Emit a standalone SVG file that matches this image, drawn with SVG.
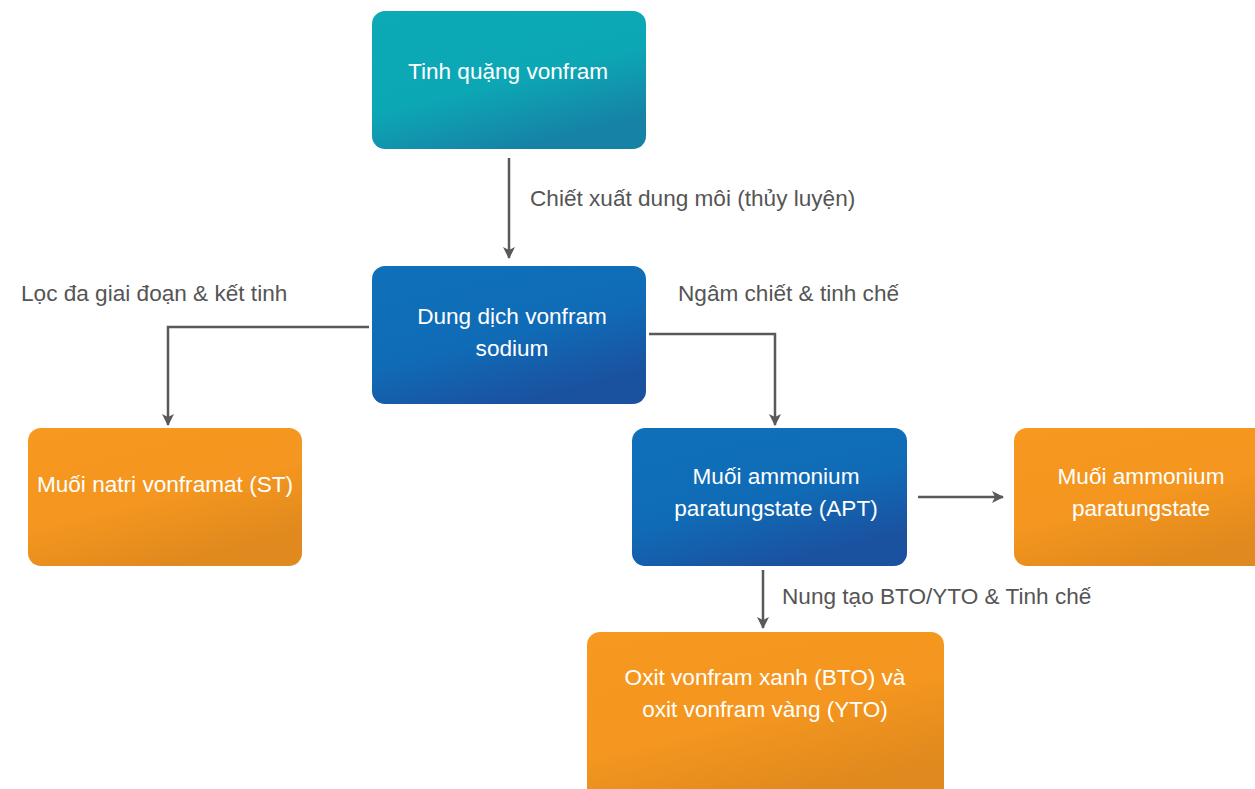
<svg xmlns="http://www.w3.org/2000/svg" width="1255" height="789" viewBox="0 0 1255 789">
<style>
.node-text{font-family:"Liberation Sans",Arial,sans-serif;font-size:22.6px;fill:#ffffff;text-anchor:middle}
.label{font-family:"Liberation Sans",Arial,sans-serif;font-size:22.6px;fill:#555555}
.conn{fill:none;stroke:#595959;stroke-width:2.5}
</style>
<defs>
<linearGradient id="gTeal" x1="0" y1="0" x2="0.5" y2="1">
<stop offset="0" stop-color="#0BAAB6"/><stop offset="0.6" stop-color="#0CA7B5"/><stop offset="1" stop-color="#1683A6"/>
</linearGradient>
<linearGradient id="gBlue" x1="0" y1="0" x2="0.5" y2="1">
<stop offset="0" stop-color="#0F71BA"/><stop offset="0.6" stop-color="#106BB6"/><stop offset="1" stop-color="#1A52A0"/>
</linearGradient>
<linearGradient id="gOrange" x1="0" y1="0" x2="0.5" y2="1">
<stop offset="0" stop-color="#F7991F"/><stop offset="0.6" stop-color="#F4961F"/><stop offset="1" stop-color="#E0891E"/>
</linearGradient>
<marker id="arrow" viewBox="0 0 12 12" refX="11" refY="6" markerWidth="12" markerHeight="12" markerUnits="userSpaceOnUse" orient="auto">
<path d="M0,0 L12,6 L0,12 L3,6 Z" fill="#595959"/>
</marker>
</defs>
<rect width="1255" height="789" fill="#ffffff"/>
<g id="connectors">
<path class="conn" d="M509,158 V258" marker-end="url(#arrow)"/>
<path class="conn" d="M369,327 H168 V425" marker-end="url(#arrow)"/>
<path class="conn" d="M649,334 H775 V425" marker-end="url(#arrow)"/>
<path class="conn" d="M918,497 H1003" marker-end="url(#arrow)"/>
<path class="conn" d="M763,570 V628" marker-end="url(#arrow)"/>
<text class="label" x="530" y="206">Chiết xuất dung môi (thủy luyện)</text>
<text class="label" x="21" y="301">Lọc đa giai đoạn &amp; kết tinh</text>
<text class="label" x="678" y="301">Ngâm chiết &amp; tinh chế</text>
<text class="label" x="782" y="604">Nung tạo BTO/YTO &amp; Tinh chế</text>
</g>
<g id="node-tinh-quang">
<rect x="372" y="11" width="274" height="138" rx="13" fill="url(#gTeal)"/>
<text class="node-text" x="508" y="79">Tinh quặng vonfram</text>
</g>
<g id="node-dung-dich">
<rect x="372" y="266" width="274" height="138" rx="13" fill="url(#gBlue)"/>
<text class="node-text" x="512" y="324">Dung dịch vonfram</text>
<text class="node-text" x="512" y="356">sodium</text>
</g>
<g id="node-st">
<rect x="28" y="428" width="274" height="138" rx="13" fill="url(#gOrange)"/>
<text class="node-text" x="165" y="492">Muối natri vonframat (ST)</text>
</g>
<g id="node-apt">
<rect x="632" y="428" width="275" height="138" rx="13" fill="url(#gBlue)"/>
<text class="node-text" x="776" y="484">Muối ammonium</text>
<text class="node-text" x="776" y="516">paratungstate (APT)</text>
</g>
<g id="node-apt-out">
<rect x="1014" y="428" width="274" height="138" rx="13" fill="url(#gOrange)"/>
<text class="node-text" x="1141" y="484">Muối ammonium</text>
<text class="node-text" x="1141" y="516">paratungstate</text>
</g>
<g id="node-oxit">
<rect x="587" y="632" width="357" height="170" rx="13" fill="url(#gOrange)"/>
<text class="node-text" x="765" y="685">Oxit vonfram xanh (BTO) và</text>
<text class="node-text" x="765" y="717">oxit vonfram vàng (YTO)</text>
</g>
</svg>
